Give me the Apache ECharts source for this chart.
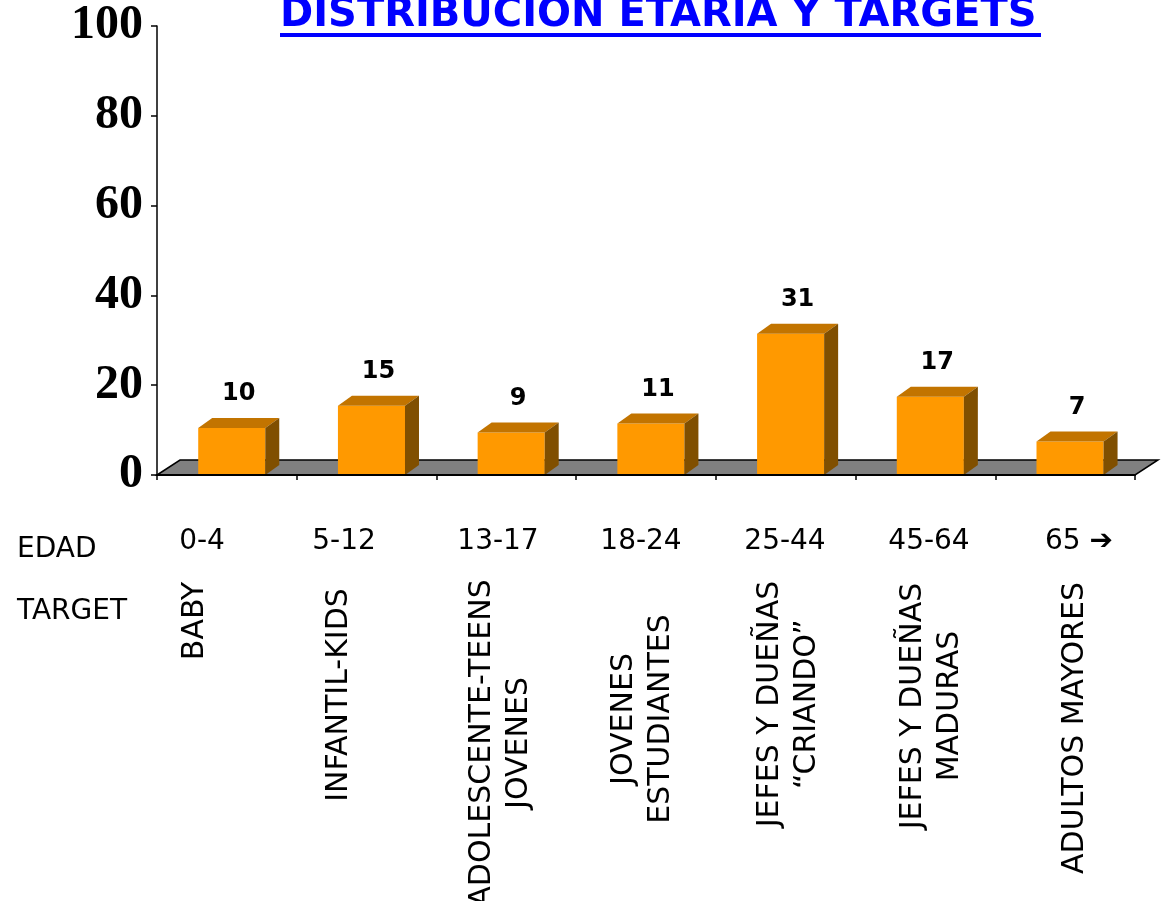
<!DOCTYPE html>
<html>
<head>
<meta charset="utf-8">
<script src="https://cdn.jsdelivr.net/npm/echarts@6/dist/echarts.min.js"></script>
<style>
html,body{margin:0;padding:0;background:#fff;}
#chart{width:1162px;height:901px;}
</style>
</head>
<body>
<div id="chart"></div>
<script>
// ---- data ----
const title = 'DISTRIBUCION ETARIA Y TARGETS';
const categories = ['0-4', '5-12', '13-17', '18-24', '25-44', '45-64', '65 \u2794'];
const targets = ['BABY', 'INFANTIL-KIDS', 'ADOLESCENTE-TEENS\nJOVENES', 'JOVENES\nESTUDIANTES',
  'JEFES Y DUEÑAS\n\u201CCRIANDO\u201D', 'JEFES Y DUEÑAS\nMADURAS', 'ADULTOS MAYORES'];
const values = [10, 15, 9, 11, 31, 17, 7];
const rowNames = ['EDAD', 'TARGET'];
const yMin = 0, yMax = 100, yStep = 20;

// ---- layout (positions of free text boxes) ----
const edadX = [202, 344, 498, 641, 785, 929, 1079];
const edadY = 542;
const targetPos = [[195, 621], [339, 695], [501, 743], [643, 719], [789, 704], [932, 706], [1075, 728]];

const FRONT = '#FF9900', TOP = '#C27400', SIDE = '#804F00';
const DX = 14, DY = 10;       // bar depth
const FDX = 23, FDY = 15;     // floor depth
const SANS = "'DejaVu Sans', sans-serif";

const chart = echarts.init(document.getElementById('chart'));

const graphics = [];
graphics.push({ type: 'rect', x: 280, y: 33, shape: { width: 761, height: 4 }, style: { fill: '#0000FF' }, z: 10 });
graphics.push({ type: 'text', x: 17, y: 550, style: { text: rowNames[0], fontSize: 28, fontFamily: SANS, fill: '#000', align: 'left', verticalAlign: 'middle', textAlign: 'left', textVerticalAlign: 'middle' } });
graphics.push({ type: 'text', x: 17, y: 612, style: { text: rowNames[1], fontSize: 28, fontFamily: SANS, fill: '#000', align: 'left', verticalAlign: 'middle', textAlign: 'left', textVerticalAlign: 'middle' } });
categories.forEach((c, i) => {
  graphics.push({ type: 'text', x: edadX[i], y: edadY, style: { text: c, fontSize: 28, fontFamily: SANS, fill: '#000', align: 'center', verticalAlign: 'middle', textAlign: 'center', textVerticalAlign: 'middle' } });
});
targets.forEach((t, i) => {
  graphics.push({ type: 'text', x: targetPos[i][0], y: targetPos[i][1], rotation: Math.PI / 2,
    style: { text: t, fontSize: 30, lineHeight: 37, fontFamily: SANS, fill: '#000', align: 'center', verticalAlign: 'middle', textAlign: 'center', textVerticalAlign: 'middle' } });
});

const option = {
  animation: false,
  backgroundColor: '#fff',
  title: {
    text: title, left: 280, top: -4, padding: 0,
    textStyle: { color: '#0000FF', fontSize: 40, fontWeight: 'bold', fontFamily: SANS, lineHeight: 40 }
  },
  grid: { left: 157, right: 27, top: 26, bottom: 426, containLabel: false },
  xAxis: {
    type: 'category', data: categories, boundaryGap: true,
    axisLine: { show: true, lineStyle: { color: '#000', width: 2 } },
    axisTick: { show: true, interval: 0, length: 5, lineStyle: { color: '#000', width: 1.5 } },
    axisLabel: { show: false },
    splitLine: { show: false }, z: 5
  },
  yAxis: {
    type: 'value', min: yMin, max: yMax, interval: yStep,
    axisLine: { show: true, lineStyle: { color: '#000', width: 1.5 } },
    axisTick: { show: true, length: 6, lineStyle: { color: '#000', width: 1.5 } },
    axisLabel: { margin: 14, color: '#000', fontSize: 48, fontWeight: 'bold', fontFamily: "'Liberation Serif', 'Times New Roman', serif" },
    splitLine: { show: false }
  },
  graphic: graphics,
  series: [
    {
      type: 'custom', name: 'floor', z: 1, silent: true,
      data: [[0, 0]],
      renderItem: function (params, api) {
        const cs = params.coordSys;
        const yb = cs.y + cs.height;
        return {
          type: 'polygon',
          shape: { points: [[cs.x, yb], [cs.x + FDX, yb - FDY], [cs.x + cs.width + FDX, yb - FDY], [cs.x + cs.width, yb]] },
          style: { fill: '#808080', stroke: '#000', lineWidth: 1.5 }
        };
      }
    },
    {
      type: 'custom', name: 'values', z: 3,
      data: values.map((v, i) => [i, v]),
      encode: { x: 0, y: 1 },
      renderItem: function (params, api) {
        const i = api.value(0), v = api.value(1);
        const p0 = api.coord([i, 0]);
        const p1 = api.coord([i, v]);
        const band = api.size([1, 0])[0];
        const w = band * 0.48;
        const cx = p0[0] + band * 0.035;
        const x = cx - w / 2, y0 = p0[1], y1 = p1[1] - 2;
        return {
          type: 'group',
          children: [
            { type: 'rect', shape: { x: x, y: y1, width: w, height: y0 - y1 }, style: { fill: FRONT } },
            { type: 'polygon', shape: { points: [[x, y1], [x + DX, y1 - DY], [x + w + DX, y1 - DY], [x + w, y1]] }, style: { fill: TOP } },
            { type: 'polygon', shape: { points: [[x + w, y1], [x + w + DX, y1 - DY], [x + w + DX, y0 - DY], [x + w, y0]] }, style: { fill: SIDE } },
            { type: 'text', x: cx + DX / 2, y: y1 - DY - 12,
              style: { text: String(v), fontSize: 24, fontWeight: 'bold', fontFamily: SANS, fill: '#000', align: 'center', verticalAlign: 'bottom', textAlign: 'center', textVerticalAlign: 'bottom' } }
          ]
        };
      }
    }
  ]
};
chart.setOption(option);
</script>
</body>
</html>
